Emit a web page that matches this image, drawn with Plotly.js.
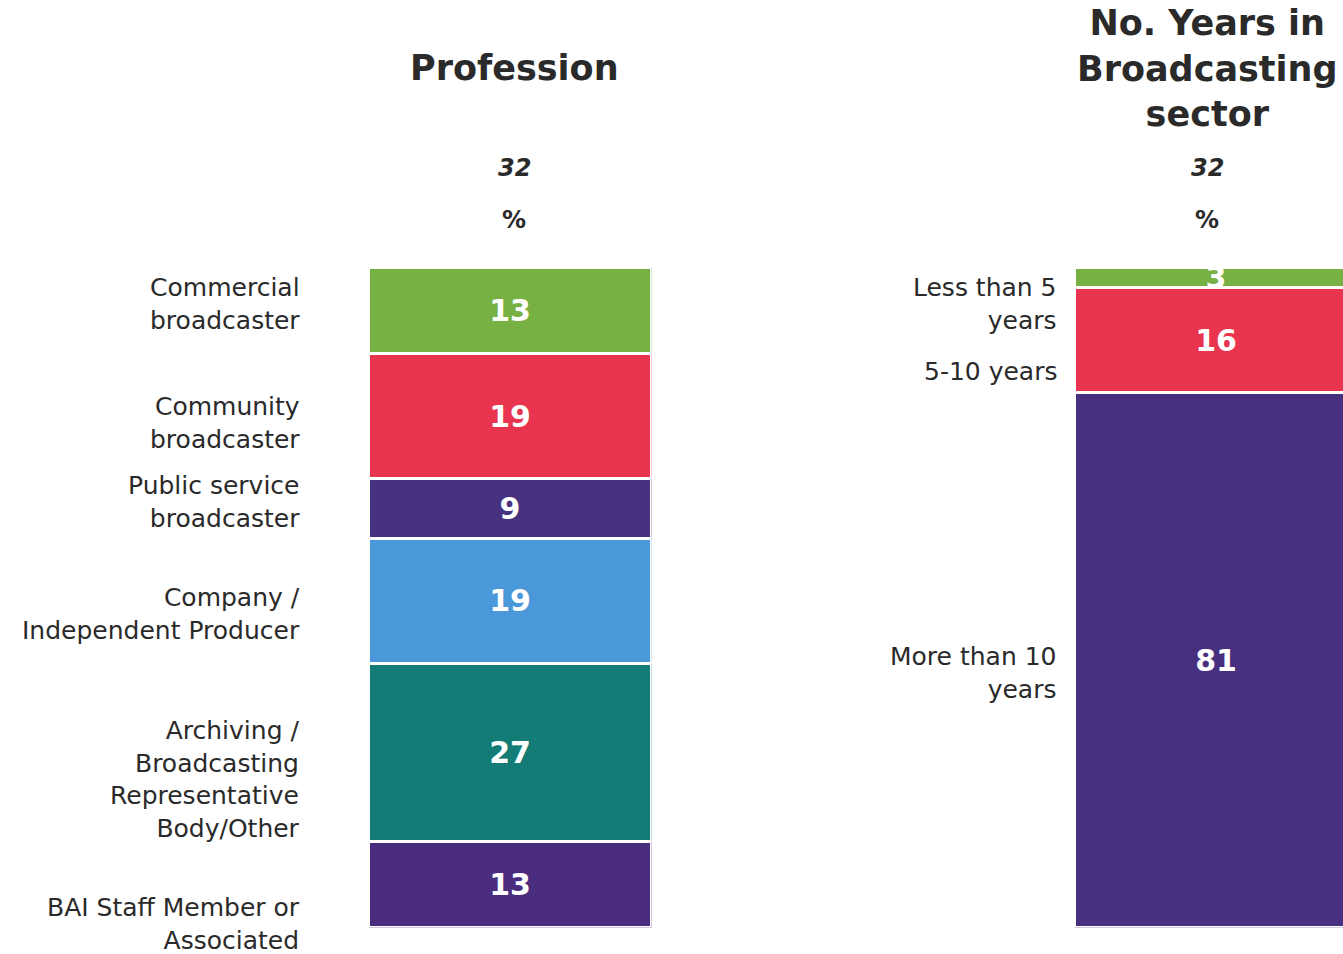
<!DOCTYPE html>
<html>
<head>
<meta charset="utf-8">
<script src="https://cdn.plot.ly/plotly-3.0.1.min.js"></script>
<style>html,body{margin:0;padding:0;background:#fff;}#chart{width:1343px;height:954px;}</style>
</head>
<body>
<div id="chart"></div>
<script>
// ---- data ----
const professionCategories = ["Commercial broadcaster", "Community broadcaster", "Public service broadcaster",
  "Company / Independent Producer", "Archiving / Broadcasting Representative Body/Other", "BAI Staff Member or Associated"];
const professionLabels = ["Commercial<br>broadcaster", "Community<br>broadcaster", "Public service<br>broadcaster",
  "Company /<br>Independent Producer", "Archiving /<br>Broadcasting<br>Representative<br>Body/Other", "BAI Staff Member or<br>Associated"];
const professionValues = [13, 19, 9, 19, 27, 13];
const professionColors = ["#78b143", "#e8344f", "#46327f", "#4a98da", "#137c77", "#4b2d7f"];

const yearsCategories = ["Less than 5 years", "5-10 years", "More than 10 years"];
const yearsLabels = ["Less than 5<br>years", "5-10 years", "More than 10<br>years"];
const yearsValues = [3, 16, 81];
const yearsColors = ["#78b143", "#e8344f", "#47307f"];

const baseN = "32";
const panelTitles = ["Profession", "No. Years in<br>Broadcasting<br>sector"];

// label vertical placement (layout, in axis units)
const professionLabelY = [5.5, 23.5, 35.6, 52.5, 77.5, 99.5];
const yearsLabelY = [5.5, 15.8, 61.5];

const FONT = "DejaVu Sans, Verdana, sans-serif";
const textColor = "#2a2a2a";

function barTrace(v, i, colors, cat, names, xa, ya) {
  return {
    type: "bar", x: [0], y: [v], width: [1], name: names[i],
    xaxis: xa, yaxis: ya,
    marker: {color: colors[i], line: {color: "#ffffff", width: 3}},
    text: [String(v)], textposition: "inside", insidetextanchor: "middle",
    constraintext: "none", textangle: 0,
    textfont: {family: FONT, size: 30, color: "#ffffff", weight: "bold"},
    hoverinfo: "skip"
  };
}
const traces = [];
professionValues.forEach((v, i) => traces.push(barTrace(v, i, professionColors, "Profession", professionCategories, "x", "y")));
yearsValues.forEach((v, i) => traces.push(barTrace(v, i, yearsColors, "Years", yearsCategories, "x2", "y2")));

const W = 1343, H = 954;
const yDom = [1 - 927.5 / H, 1 - 267.5 / H];
const hiddenAxis = {showgrid: false, zeroline: false, showticklabels: false, showline: false, ticks: ""};
const barPx = 283;            // pixel width of each bar column
const rightVisible = W - 1074.5; // visible part of the right column (clipped by page edge)

const annotations = [];
professionLabels.forEach((t, i) => {
  annotations.push({text: t, xref: "paper", x: 302 / W, xanchor: "right", yref: "y", y: professionLabelY[i],
    yanchor: "middle", align: "right", showarrow: false, font: {family: FONT, size: 25, color: textColor}});
});
yearsLabels.forEach((t, i) => {
  annotations.push({text: t, xref: "paper", x: 1059 / W, xanchor: "right", yref: "y2", y: yearsLabelY[i],
    yanchor: "middle", align: "right", showarrow: false, font: {family: FONT, size: 25, color: textColor}});
});
// panel headers
annotations.push({text: panelTitles[0], xref: "paper", x: 514 / W, xanchor: "center", yref: "paper", y: 1 - 68 / H,
  yanchor: "middle", showarrow: false, font: {family: FONT, size: 35, color: textColor, weight: "bold"}});
annotations.push({text: panelTitles[1], xref: "paper", x: 1207 / W, xanchor: "center", yref: "paper", y: 1 - 69 / H,
  yanchor: "middle", showarrow: false, font: {family: FONT, size: 35, color: textColor, weight: "bold"}});
[514, 1207].forEach(cx => {
  annotations.push({text: "<i>" + baseN + "</i>", xref: "paper", x: cx / W, xanchor: "center", yref: "paper", y: 1 - 168 / H,
    yanchor: "middle", showarrow: false, font: {family: FONT, size: 24, color: textColor, weight: "bold"}});
  annotations.push({text: "%", xref: "paper", x: cx / W, xanchor: "center", yref: "paper", y: 1 - 220 / H,
    yanchor: "middle", showarrow: false, font: {family: FONT, size: 24, color: textColor, weight: "bold"}});
});

const layout = {
  width: W, height: H, margin: {l: 0, r: 0, t: 0, b: 0},
  paper_bgcolor: "#ffffff", plot_bgcolor: "#ffffff",
  barmode: "stack", bargap: 0, showlegend: false, hovermode: false,
  xaxis: Object.assign({domain: [368.5 / W, 651.5 / W], range: [-0.5, 0.5], anchor: "y"}, hiddenAxis),
  yaxis: Object.assign({domain: yDom, range: [100, 0], anchor: "x"}, hiddenAxis),
  xaxis2: Object.assign({domain: [1074.5 / W, 1], range: [-0.5, -0.5 + rightVisible / barPx], anchor: "y2"}, hiddenAxis),
  yaxis2: Object.assign({domain: yDom, range: [100, 0], anchor: "x2"}, hiddenAxis),
  annotations: annotations
};

Plotly.newPlot("chart", traces, layout, {displayModeBar: false, staticPlot: true});
</script>
</body>
</html>
